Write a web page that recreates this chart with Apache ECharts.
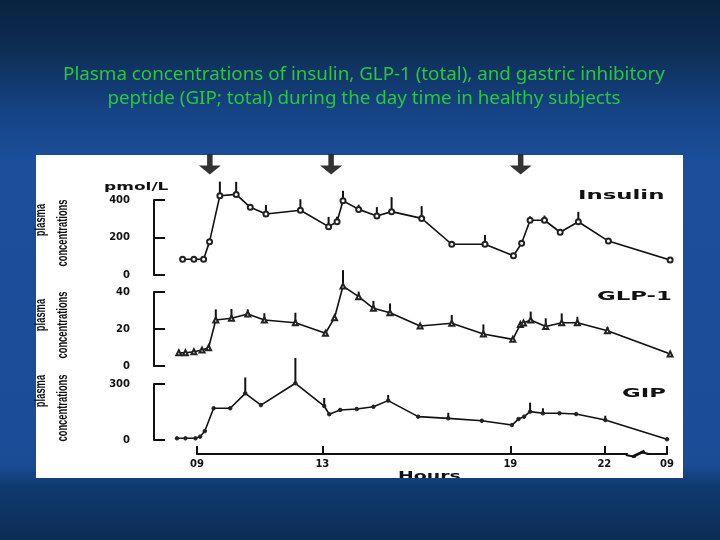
<!DOCTYPE html>
<html>
<head>
<meta charset="utf-8">
<script src="https://cdn.jsdelivr.net/npm/echarts@6/dist/echarts.min.js"></script>
<style>html,body{margin:0;padding:0;background:#123c78;}#c{width:720px;height:540px;}</style>
</head>
<body>
<div id="c"></div>
<script>
// ---- data (hours of day; next-day 09:00 plotted at 24) ----
const tickHours = [9, 13, 19, 22, 24];
const tickLabels = ['09', '13', '19', '22', '09'];
const mealTimes = [9.41, 13.28, 19.33];

const insulinHours = [8.54, 8.9, 9.21, 9.4, 9.73, 10.25, 10.7, 11.2, 12.3, 13.2, 13.47, 13.66, 14.16, 14.74, 15.21, 16.17, 17.13, 18.19, 19.1, 19.36, 19.63, 20.09, 20.59, 21.17, 22.13, 24.1];
const insulin = [84, 84, 84, 178, 423, 430, 361, 325, 345, 258, 284, 396, 350, 315, 338, 302, 164, 164, 103, 169, 292, 292, 228, 284, 181, 80];
const insulinSem = [0, 8, 0, 8, 75, 67, 0, 48, 59, 52, 27, 53, 25, 47, 77, 65, 8, 50, 0, 8, 21, 25, 0, 53, 8, 0];

const glpHours = [8.42, 8.63, 8.9, 9.16, 9.37, 9.6, 10.1, 10.62, 11.15, 12.14, 13.1, 13.39, 13.66, 14.16, 14.63, 15.16, 16.12, 17.13, 18.14, 19.08, 19.32, 19.42, 19.65, 20.13, 20.64, 21.14, 22.1, 24.1];
const glp = [7.2, 7.2, 7.7, 8.6, 9.9, 24.9, 25.8, 28.1, 24.9, 23.4, 17.7, 26.1, 43.2, 37.5, 31.2, 28.8, 21.6, 23.1, 17.3, 14.4, 22.5, 23.3, 24.9, 21.3, 23.4, 23.4, 19.1, 6.5];
const glpSem = [0, 0, 0, 0, 1, 5.7, 5, 2.5, 3.6, 5.4, 0, 1, 8.6, 2.7, 4, 5, 0, 4.5, 5.2, 0, 0, 0, 4.5, 4.5, 5, 3.2, 2, 0];

const gipHours = [8.36, 8.63, 8.95, 9.1, 9.25, 9.53, 10.06, 10.54, 11.04, 12.14, 13.06, 13.22, 13.57, 14.1, 14.63, 15.1, 16.06, 17.02, 18.09, 19.05, 19.26, 19.44, 19.63, 20.04, 20.57, 21.1, 22.03, 24.0];
const gip = [9, 9, 9, 18, 48, 170, 170, 250, 187, 304, 182, 138, 161, 166, 178, 211, 125, 116, 103, 80, 112, 125, 152, 143, 143, 139, 107, 4];
const gipSem = [0, 0, 0, 0, 5, 0, 0, 85, 0, 135, 43, 0, 10, 8, 8, 30, 0, 30, 0, 0, 0, 5, 48, 27, 5, 0, 23, 0];

const breakSpan = [[22.75, 23.35]];

// ---- helpers ----
const zip = (h, v) => h.map((x, i) => [x, v[i]]);
const zip3 = (h, v, e) => h.map((x, i) => [x, v[i], e[i]]);
const BOLD = 'DejaVu Sans';

function lineSeries(idx, hours, vals, symbol, size) {
  return {
    type: 'line', xAxisIndex: idx, yAxisIndex: idx, data: zip(hours, vals),
    symbol: symbol, symbolSize: size, showAllSymbol: true, clip: false, z: 5,
    lineStyle: { color: '#111', width: 1.6 },
    itemStyle: { color: '#222', borderColor: '#222', borderWidth: 1 },
    emphasis: { disabled: true }
  };
}
function errSeries(idx, hours, vals, sem) {
  return {
    type: 'custom', xAxisIndex: idx, yAxisIndex: idx, data: zip3(hours, vals, sem), clip: false, z: 4,
    renderItem: function (params, api) {
      const e = api.value(2);
      if (!e) return null;
      const p0 = api.coord([api.value(0), api.value(1)]);
      const p1 = api.coord([api.value(0), api.value(1) + e]);
      return { type: 'line', shape: { x1: p0[0], y1: p0[1], x2: p1[0], y2: p1[1] }, style: { stroke: '#111', lineWidth: 2 } };
    }
  };
}
function yAx(idx, max, interval, offset) {
  return {
    gridIndex: idx, type: 'value', min: 0, max: max, interval: interval, offset: offset,
    axisLine: { show: true, lineStyle: { color: '#111', width: 2 } },
    axisTick: { show: true, inside: true, length: 11, lineStyle: { color: '#111', width: 2 } },
    axisLabel: { fontFamily: BOLD, fontWeight: 'bold', fontSize: 10, color: '#111', margin: 24 },
    splitLine: { show: false }
  };
}
const L = 165.67, R = 53;
const grad = { type: 'linear', x: 0, y: 0, x2: 0, y2: 540, global: true, colorStops: [
  { offset: 0, color: '#0a2240' }, { offset: 0.08, color: '#0d2b50' }, { offset: 0.2, color: '#154282' },
  { offset: 0.3, color: '#1b4f9c' }, { offset: 0.86, color: '#1a4c96' }, { offset: 0.9, color: '#103a70' },
  { offset: 1, color: '#0c2d55' } ] };

function vtext(x, y, t) {
  return { type: 'text', x: x, y: y, rotation: Math.PI / 2, scaleX: 0.72, scaleY: 1.1, z: 10,
    style: { text: t, fill: '#111', font: 'bold 13px "Liberation Sans", sans-serif', align: 'center', verticalAlign: 'middle' } };
}
function wtext(x, y, t, size, sx) {
  return { type: 'text', x: x, y: y, scaleX: sx, z: 10,
    style: { text: t, fill: '#111', font: 'bold ' + size + 'px "DejaVu Sans"', align: 'left', verticalAlign: 'middle' } };
}

const chart = echarts.init(document.getElementById('c'), null, { renderer: 'canvas' });
chart.setOption({
  animation: false,
  title: {
    text: 'Plasma concentrations of insulin, GLP-1 (total), and gastric inhibitory\npeptide (GIP; total) during the day time in healthy subjects',
    left: 359, top: 58, textAlign: 'center',
    textStyle: { color: '#27c83c', fontSize: 18.8, fontWeight: 'normal', lineHeight: 24, fontFamily: '"Noto Sans", sans-serif' }
  },
  graphic: [
    { type: 'rect', z: -100, silent: true, shape: { x: 0, y: 0, width: 720, height: 540 }, style: { fill: grad } },
    { type: 'rect', z: -99, silent: true, shape: { x: 36, y: 155, width: 647, height: 323 }, style: { fill: '#ffffff' } },
    vtext(41, 220, 'plasma'), vtext(63.5, 233, 'concentrations'),
    vtext(41, 315, 'plasma'), vtext(63.5, 325, 'concentrations'),
    vtext(41, 391, 'plasma'), vtext(63.5, 408, 'concentrations'),
    wtext(104, 187, 'pmol/L', 10, 1.7),
    wtext(578, 196, 'Insulin', 12, 1.9),
    wtext(597, 297, 'GLP-1', 12, 1.9),
    wtext(622, 394, 'GIP', 12, 1.9),
    wtext(398, 477, 'Hours', 13, 1.45),
    { type: 'rect', z: 200, silent: true, shape: { x: 0, y: 478, width: 720, height: 62 }, style: { fill: grad } }
  ],
  grid: [
    { left: L, right: R, top: 200, height: 75 },
    { left: L, right: R, top: 292, height: 74 },
    { left: L, right: R, top: 384, height: 56 },
    { left: 197, right: R, top: 444, height: 10 }
  ],
  xAxis: [0, 1, 2].map(i => ({ gridIndex: i, type: 'value', min: 8, max: 24, show: false })).concat([{
    gridIndex: 3, type: 'value', min: 9, max: 24,
    axisLine: { show: true, lineStyle: { color: '#111', width: 2 } },
    axisTick: { show: true, inside: true, length: 8, lineStyle: { color: '#111', width: 2 }, customValues: tickHours },
    axisLabel: { customValues: tickHours, fontFamily: BOLD, fontWeight: 'bold', fontSize: 10, color: '#111', margin: 5,
      formatter: v => { const i = tickHours.indexOf(v); return i >= 0 ? tickLabels[i] : ''; } },
    splitLine: { show: false }
  }]),
  yAxis: [
    yAx(0, 400, 200, 11.67),
    yAx(1, 40, 20, 11.67),
    yAx(2, 300, 300, 11.67),
    { gridIndex: 3, type: 'value', min: 0, max: 1, show: false }
  ],
  series: [
    errSeries(0, insulinHours, insulin, insulinSem),
    lineSeries(0, insulinHours, insulin, 'emptyCircle', 5),
    errSeries(1, glpHours, glp, glpSem),
    lineSeries(1, glpHours, glp, 'emptyTriangle', 5),
    errSeries(2, gipHours, gip, gipSem),
    lineSeries(2, gipHours, gip, 'circle', 3.5),
    {
      type: 'scatter', xAxisIndex: 0, yAxisIndex: 0, clip: false, z: 6,
      data: mealTimes.map(t => [t, 590]),
      symbol: 'path://M3,0 L5,0 L5,5.5 L8,5.5 L4,10 L0,5.5 L3,5.5 Z', symbolSize: [22, 20],
      itemStyle: { color: '#000' }, emphasis: { disabled: true }
    },
    {
      type: 'custom', xAxisIndex: 3, yAxisIndex: 3, data: breakSpan, clip: false, z: 6,
      renderItem: function (params, api) {
        const a = api.coord([api.value(0), 0]);
        const b = api.coord([api.value(1), 0]);
        const y = a[1];
        return { type: 'group', children: [
          { type: 'rect', shape: { x: a[0], y: y - 3, width: b[0] - a[0], height: 6 }, style: { fill: '#fff' } },
          { type: 'line', shape: { x1: a[0] - 2, y1: y + 1, x2: a[0] + 8, y2: y + 3 }, style: { stroke: '#111', lineWidth: 2 } },
          { type: 'line', shape: { x1: a[0] + 4, y1: y + 3, x2: b[0] - 2, y2: y - 3 }, style: { stroke: '#111', lineWidth: 3 } },
          { type: 'line', shape: { x1: b[0] - 6, y1: y - 2, x2: b[0] + 2, y2: y }, style: { stroke: '#111', lineWidth: 2 } }
        ] };
      }
    }
  ]
});
</script>
</body>
</html>
